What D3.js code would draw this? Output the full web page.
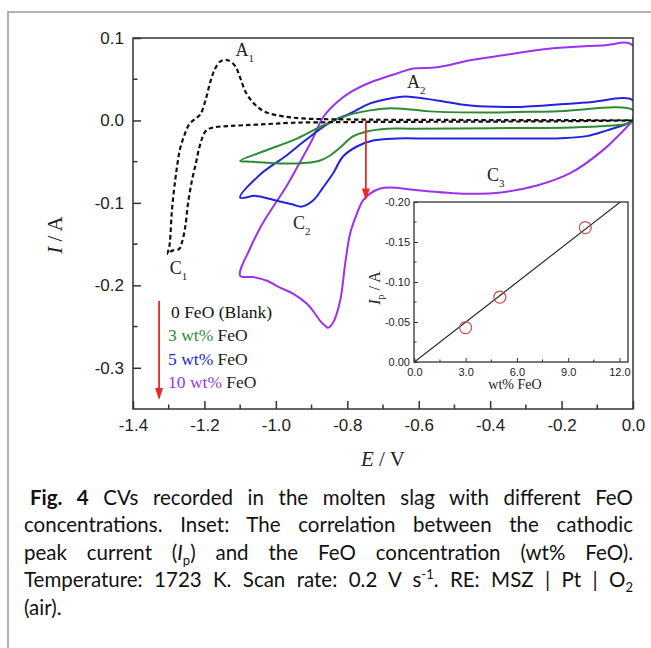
<!DOCTYPE html>
<html><head><meta charset="utf-8">
<script src="https://cdn.jsdelivr.net/npm/d3@7"></script>
<style>
body{margin:0;background:#fff;width:651px;height:648px;overflow:hidden;position:relative}
svg{position:absolute;left:0;top:0}
#cap{position:absolute;left:24px;top:484px;width:609px;font-family:Lato,"Open Sans",sans-serif;font-size:20.5px;color:#111}
#cap div{height:27.4px;line-height:27.4px;text-align:justify;text-align-last:justify;white-space:nowrap}
#cap div.last{text-align-last:left}
#cap sub,#cap sup{font-size:13px;line-height:0}
</style></head><body>
<svg id="chart" width="651" height="648"></svg>
<div id="cap">
<div style="padding-left:6px"><b>Fig. 4</b> CVs recorded in the molten slag with different FeO</div>
<div>concentrations. Inset: The correlation between the cathodic</div>
<div>peak current (<i>I</i><sub>p</sub>) and the FeO concentration (wt% FeO).</div>
<div>Temperature: 1723 K. Scan rate: 0.2 V s<sup>-1</sup>. RE: MSZ | Pt | O<sub>2</sub></div>
<div class="last">(air).</div>
</div>
<script>
// ---- data: [E (V), I (A)] ----
const blankCV = [[0,0],[-0.2,-0.001],[-0.5,-0.0015],[-0.8,-0.002],[-0.95,-0.0028],[-1.05,-0.005],[-1.128,-0.0067],[-1.175,-0.0085],[-1.195,-0.012],[-1.205,-0.02],[-1.215,-0.034],[-1.224,-0.052],[-1.235,-0.073],[-1.246,-0.101],[-1.254,-0.130],[-1.263,-0.148],[-1.271,-0.156],[-1.291,-0.158],[-1.302,-0.162],
 [-1.297,-0.149],[-1.291,-0.109],[-1.282,-0.073],[-1.275,-0.051],[-1.268,-0.034],[-1.257,-0.019],[-1.243,-0.005],[-1.226,0.002],[-1.212,0.007],[-1.198,0.023],[-1.184,0.046],[-1.170,0.063],[-1.154,0.072],[-1.134,0.073],[-1.114,0.066],[-1.100,0.052],[-1.084,0.034],[-1.058,0.019],[-1.028,0.010],[-0.98,0.005],[-0.924,0.0024],[-0.8,0.0012],[-0.5,0.0006],[0,0.0002]];
const feo3CV = [[0,0],[-0.017,-0.004],[-0.07,-0.0065],[-0.17,-0.0085],[-0.32,-0.0092],[-0.5,-0.0097],[-0.62,-0.0100],[-0.689,-0.0100],[-0.745,-0.0134],[-0.784,-0.0194],[-0.82,-0.0328],[-0.848,-0.0425],[-0.876,-0.0486],[-0.904,-0.051],[-0.941,-0.0522],[-0.988,-0.0522],[-1.036,-0.051],[-1.07,-0.050],[-1.1,-0.049],
 [-1.036,-0.0377],[-0.941,-0.022],[-0.868,-0.0061],[-0.801,0.006],[-0.736,0.0122],[-0.689,0.0146],[-0.624,0.0134],[-0.568,0.011],[-0.409,0.0097],[-0.224,0.011],[0,0.0125],[0,0]];
const feo5CV = [[0,0],[-0.017,-0.004],[-0.073,-0.012],[-0.129,-0.019],[-0.2,-0.0215],[-0.316,-0.022],[-0.45,-0.022],[-0.568,-0.022],[-0.661,-0.0219],[-0.728,-0.0243],[-0.773,-0.0316],[-0.812,-0.0437],[-0.840,-0.0644],[-0.868,-0.0814],[-0.896,-0.0972],[-0.927,-0.1045],[-0.952,-0.1020],[-1.0,-0.0972],[-1.056,-0.0915],[-1.1,-0.0936],
 [-1.044,-0.0656],[-0.974,-0.0437],[-0.918,-0.0243],[-0.848,-0.0024],[-0.792,0.0085],[-0.736,0.0207],[-0.68,0.0267],[-0.638,0.029],[-0.549,0.0243],[-0.456,0.018],[-0.316,0.0164],[-0.129,0.0219],[0,0.0243],[0,0]];
const feo10CV = [[0,0],[-0.084,-0.036],[-0.176,-0.064],[-0.269,-0.079],[-0.364,-0.087],[-0.456,-0.089],[-0.596,-0.085],[-0.68,-0.0814],[-0.708,-0.0826],[-0.736,-0.0887],[-0.756,-0.097],[-0.773,-0.113],[-0.792,-0.137],[-0.806,-0.174],[-0.82,-0.2187],[-0.84,-0.2454],[-0.854,-0.2515],[-0.862,-0.2491],[-0.876,-0.243],[-0.896,-0.2309],[-0.913,-0.2224],[-0.952,-0.210],[-0.988,-0.2029],[-1.025,-0.1944],[-1.064,-0.190],[-1.1,-0.1883],
 [-1.072,-0.155],[-1.036,-0.124],[-1.008,-0.105],[-0.972,-0.081],[-0.938,-0.055],[-0.899,-0.024],[-0.868,0.0036],[-0.829,0.022],[-0.792,0.034],[-0.736,0.046],[-0.661,0.057],[-0.616,0.063],[-0.549,0.0644],[-0.456,0.073],[-0.364,0.079],[-0.224,0.0875],[-0.084,0.091],[0,0.091],[0,0]];
const seriesNames = ["0 FeO (Blank)","3 wt% FeO","5 wt% FeO","10 wt% FeO"];
const xTicks = [-1.4,-1.2,-1.0,-0.8,-0.6,-0.4,-0.2,0.0];
const yTicks = [0.1,0.0,-0.1,-0.2,-0.3];
// inset
const insetFeO = [3,5,10];
const insetIp = [-0.043,-0.081,-0.168];
const fitSlope = -0.0166;
const insetXTicks = [0,3,6,9,12];
const insetYTicks = [0,-0.05,-0.10,-0.15,-0.20];

const hy = f => d => f(d).replace("\u2212","-");
const svg = d3.select("#chart");
// outer frame
svg.append("rect").attr("x",8).attr("y",12).attr("width",700).attr("height",700)
  .attr("fill","none").attr("stroke","#9a9a9a").attr("stroke-width",1.5);

const L=133,R=633,T=38,B=409;
const x = d3.scaleLinear().domain([-1.4,0]).range([L,R]);
const y = d3.scaleLinear().domain([-0.35,0.1]).range([B,T]);
const axisCol="#333";
const tickFont="'Liberation Sans',Arial,sans-serif";

svg.append("clipPath").attr("id","plotclip").append("rect").attr("x",L).attr("y",T).attr("width",R-L).attr("height",B-T);

const line = d3.line().x(d=>x(d[0])).y(d=>y(d[1])).curve(d3.curveCatmullRom.alpha(0.5));
const g = svg.append("g").attr("clip-path","url(#plotclip)");
const colors = ["#111","#2e8b35","#2323dd","#9a33f0"];
[[feo10CV,3],[feo5CV,2],[feo3CV,1]].forEach(([d,i])=>{
  g.append("path").attr("d",line(d)).attr("fill","none").attr("stroke",colors[i]).attr("stroke-width",2).attr("stroke-linejoin","round");
});
g.append("path").attr("d",line(blankCV)).attr("fill","none").attr("stroke","#111").attr("stroke-width",2.2).attr("stroke-dasharray","4.5,3");

// axes
const xAxis = d3.axisBottom(x).tickValues(xTicks).tickSize(-8).tickPadding(14).tickFormat(hy(d3.format(".1f")));
const gx = svg.append("g").attr("transform",`translate(0,${B})`).call(xAxis);
const yAxis = d3.axisLeft(y).tickValues(yTicks).tickSize(-8).tickPadding(9).tickFormat(hy(d3.format(".1f")));
const gy = svg.append("g").attr("transform",`translate(${L},0)`).call(yAxis);
[gx,gy].forEach(a=>{
  a.select(".domain").remove();
  a.selectAll("line").attr("stroke",axisCol).attr("stroke-width",1.5);
  a.selectAll("text").attr("font-family",tickFont).attr("font-size",17).attr("fill","#222");
});
gx.selectAll("text").attr("dy","0.45em");
// minor ticks
const xMinor = d3.range(-1.3,0,0.2);
svg.append("g").selectAll("line").data(xMinor).join("line")
  .attr("x1",d=>x(d)).attr("x2",d=>x(d)).attr("y1",B).attr("y2",B-4.5).attr("stroke",axisCol).attr("stroke-width",1.5);
const yMinor = [0.05,-0.05,-0.15,-0.25];
svg.append("g").selectAll("line").data(yMinor).join("line")
  .attr("y1",d=>y(d)).attr("y2",d=>y(d)).attr("x1",L).attr("x2",L+4.5).attr("stroke",axisCol).attr("stroke-width",1.5);
svg.append("rect").attr("x",L).attr("y",T).attr("width",R-L).attr("height",B-T).attr("fill","none").attr("stroke",axisCol).attr("stroke-width",1.5);

// axis titles
const serif="'Liberation Serif','Times New Roman',serif";
svg.append("text").attr("x",383).attr("y",466).attr("text-anchor","middle").attr("font-family",serif).attr("font-size",21).attr("fill","#222")
  .html('<tspan font-style="italic">E</tspan> / V');
svg.append("text").attr("transform","translate(62,235) rotate(-90)").attr("text-anchor","middle").attr("font-family",serif).attr("font-size",21).attr("fill","#222")
  .html('<tspan font-style="italic">I</tspan> / A');

// peak labels
const peakLabels = [["A","1",-1.113,0.078],["A","2",-0.633,0.039],["C","1",-1.297,-0.186],["C","2",-0.952,-0.132],["C","3",-0.409,-0.073]];
peakLabels.forEach(([a,s,e,i])=>{
  const t=svg.append("text").attr("x",x(e)).attr("y",y(i)).attr("font-family",serif).attr("font-size",18).attr("fill","#222");
  t.append("tspan").text(a);
  t.append("tspan").attr("font-size",11).attr("dy",6).text(s);
});

// red arrows
const red="#e62b22";
function arrow(e,i0,i1){
  svg.append("line").attr("x1",x(e)).attr("x2",x(e)).attr("y1",y(i0)).attr("y2",y(i1)-10).attr("stroke",red).attr("stroke-width",1.8);
  const xt=x(e), yt=y(i1);
  svg.append("path").attr("d",`M${xt-4},${yt-12}L${xt+4},${yt-12}L${xt},${yt}Z`).attr("fill",red);
}
arrow(-0.748,0.0,-0.097);
arrow(-1.327,-0.219,-0.339);

// legend
const legendParts = [[["0 FeO (Blank)",colors[0]]],[["3 wt%",colors[1]],[" FeO","#222"]],[["5 wt%",colors[2]],[" FeO","#222"]],[["10 wt%",colors[3]],[" FeO","#222"]]];
legendParts.forEach((parts,k)=>{
  const t=svg.append("text").attr("x",k===0?171:168).attr("y",318+k*23.3).attr("font-family",serif).attr("font-size",17.5);
  parts.forEach(([s,c])=>t.append("tspan").attr("fill",c).text(s));
});

// ---- inset ----
const iL=414,iR=628,iT=202,iB=362;
const ix = d3.scaleLinear().domain([-0.02,12.5]).range([iL,iR]);
const iy = d3.scaleLinear().domain([0,-0.2]).range([iB,iT]);
svg.append("rect").attr("x",iL).attr("y",iT).attr("width",iR-iL).attr("height",iB-iT).attr("fill","#fff");
svg.append("clipPath").attr("id","iclip").append("rect").attr("x",iL).attr("y",iT).attr("width",iR-iL).attr("height",iB-iT);
const xEnd = -0.2/fitSlope;
svg.append("line").attr("clip-path","url(#iclip)").attr("x1",ix(0)).attr("y1",iy(0)).attr("x2",ix(xEnd)).attr("y2",iy(fitSlope*xEnd))
  .attr("stroke","#222").attr("stroke-width",1.1);
svg.append("g").selectAll("circle").data(insetFeO).join("circle")
  .attr("cx",d=>ix(d)).attr("cy",(d,i)=>iy(insetIp[i])).attr("r",6).attr("fill","none").attr("stroke","#c0504d").attr("stroke-width",1.2);
const ixAxis = d3.axisBottom(ix).tickValues(insetXTicks).tickSize(-4).tickPadding(6).tickFormat(hy(d3.format(".1f")));
const giX = svg.append("g").attr("transform",`translate(0,${iB})`).call(ixAxis);
const iyAxis = d3.axisLeft(iy).tickValues(insetYTicks).tickSize(-4).tickPadding(4).tickFormat(hy(d3.format(".2f")));
const giY = svg.append("g").attr("transform",`translate(${iL},0)`).call(iyAxis);
[giX,giY].forEach(a=>{
  a.select(".domain").remove();
  a.selectAll("line").attr("stroke",axisCol).attr("stroke-width",1);
  a.selectAll("text").attr("font-family",tickFont).attr("font-size",11).attr("fill","#222");
});
svg.append("g").selectAll("line").data([1.5,4.5,7.5,10.5]).join("line")
  .attr("x1",d=>ix(d)).attr("x2",d=>ix(d)).attr("y1",iB).attr("y2",iB-2.5).attr("stroke",axisCol);
svg.append("g").selectAll("line").data([-0.025,-0.075,-0.125,-0.175]).join("line")
  .attr("y1",d=>iy(d)).attr("y2",d=>iy(d)).attr("x1",iL).attr("x2",iL+2.5).attr("stroke",axisCol);
svg.append("rect").attr("x",iL).attr("y",iT).attr("width",iR-iL).attr("height",iB-iT).attr("fill","none").attr("stroke",axisCol).attr("stroke-width",1.3);
svg.append("text").attr("x",515).attr("y",389).attr("text-anchor","middle").attr("font-family",serif).attr("font-size",14).attr("fill","#222").text("wt% FeO");
svg.append("text").attr("transform","translate(380,288) rotate(-90)").attr("text-anchor","middle").attr("font-family",serif).attr("font-size",16).attr("fill","#222")
  .html('<tspan font-style="italic">I</tspan><tspan font-size="10" dy="4">p</tspan><tspan dy="-4"> / A</tspan>');
</script>
</body></html>
